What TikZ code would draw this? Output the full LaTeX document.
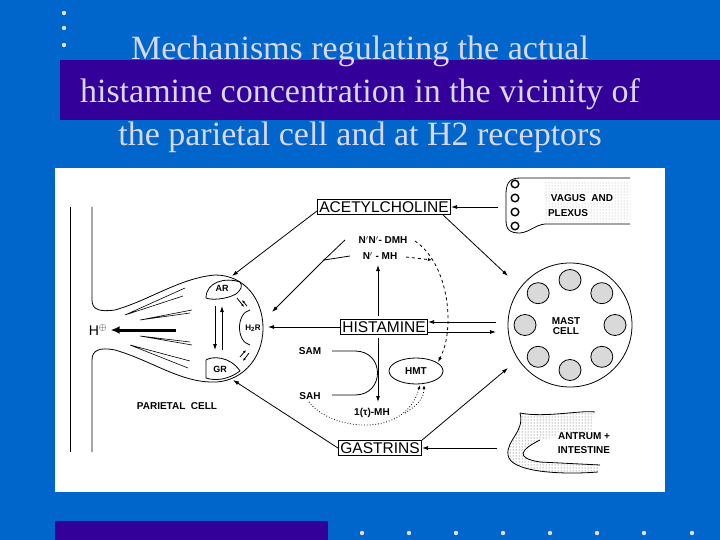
\documentclass[tikz,border=0pt]{standalone}
\usepackage{fontspec}
\setmainfont{Liberation Serif}
\newfontfamily\lab{Liberation Sans}
\usetikzlibrary{arrows.meta,patterns,calc,shapes.geometric}
\definecolor{bg}{HTML}{0066CC}
\definecolor{band}{HTML}{330099}
\definecolor{ttl}{HTML}{D8D8F0}
\begin{document}
\begin{tikzpicture}[x=1pt,y=-1pt,
  ln/.style={line width=0.8pt},
  ar/.style={ln,-{Latex[length=6pt,width=4pt]}},
  box/.style={draw,line width=0.9pt,inner sep=2pt,font=\lab\fontsize{15.5}{15.5}\selectfont},
  sm/.style={font=\lab\bfseries\fontsize{10}{10}\selectfont,inner sep=1pt},
  gran/.style={draw,line width=0.8pt,fill=gray!30}]
\useasboundingbox (0,0) rectangle (720,540);
\fill[bg] (0,0) rectangle (720,540);
\fill[band] (60,60) rectangle (720,120);
\foreach \y [count=\i] in {13,28,45} \fill[ttl!80] (64,\y) circle (2.2) coordinate (b\i);
\node[text=ttl,font=\fontsize{34}{43}\selectfont,align=center] (title) at (360,94)
 {Mechanisms regulating the actual\\histamine concentration in the vicinity of\\the parietal cell and at H2 receptors};
\fill[band] (55,521) rectangle (328,540);
\foreach \x in {362,409,456,503,550,597,644,692} \fill[ttl!80] (\x,533) circle (2.2);
\fill[white] (55,168) rectangle (665,492);
% parietal cell
\draw[ln] (70,207) -- (70,452);
\draw[ln] (92,207) -- (92,300) .. controls (92,310) and (100,312) .. (115,310) .. controls (150,300) and (180,278) .. (215,275)
  .. controls (245,275) and (263,300) .. (263,328) .. controls (263,360) and (240,383) .. (212,382)
  .. controls (180,382) and (150,360) .. (115,350) .. controls (100,347) and (92,350) .. (92,360) -- (92,452);
\draw[line width=0.6pt] (185,288) -- (125,315) -- (183,296);
\draw[line width=0.6pt] (192,310) -- (140,320) -- (190,313);
\draw[line width=0.6pt] (192,345) -- (140,336) -- (190,342);
\draw[line width=0.6pt] (188,368) -- (130,345) -- (190,361);
\draw[ln] (206,298) .. controls (206,282) and (225,277) .. (240,282) .. controls (243,286) and (241,290) .. (236,294) .. controls (225,300) and (210,300) .. (206,298);
\draw[ln] (250,310) .. controls (236,313) and (236,342) .. (250,345);
\draw[ln] (206,360) .. controls (212,356) and (230,356) .. (240,371) .. controls (228,380) and (215,381) .. (206,378) -- (206,360);
\node[sm,font=\lab\bfseries\fontsize{9}{9}\selectfont] (AR) at (222,288) {AR};
\node[sm,font=\lab\bfseries\fontsize{8}{8}\selectfont] (H2R) at (253,328) {H\textsubscript{2}R};
\node[sm,font=\lab\bfseries\fontsize{9}{9}\selectfont] (GR) at (220,369) {GR};
\node[font=\lab\fontsize{14}{14}\selectfont] (H) at (98,330) {H$^{\oplus}$};
\draw[line width=3pt,-{Latex[length=9pt,width=8pt]}] (176,330) -- (H.east);
\draw[ar] (215,306) -- (215,350);
\draw[ar] (222,350) -- (222,306);
\draw[ar,-{Latex[length=3pt,width=2.5pt]}] (237,298) -- (244,307);
\draw[ar,-{Latex[length=3pt,width=2.5pt]}] (247,306) -- (242,300);
\draw[ar,-{Latex[length=3pt,width=2.5pt]}] (240,357) -- (246,350);
\draw[ar,-{Latex[length=3pt,width=2.5pt]}] (249,353) -- (243,361);
\node[sm] (PC) at (177,406) {PARIETAL\ \ CELL};
% boxes
\node[box] (ACH) at (384,207) {ACETYLCHOLINE};
\node[box] (HIS) at (384,327) {HISTAMINE};
\node[box] (GAS) at (380,448) {GASTRINS};
\node[draw,ln,ellipse,minimum width=54,minimum height=26,sm] (HMT) at (416,371) {HMT};
\node[sm] (DMH) at (383,240) {N$'$N$'$- DMH};
\node[sm] (MH) at (380,256) {N$'$ - MH};
\node[sm] (SAM) at (310,351) {SAM};
\node[sm] (SAH) at (310,396) {SAH};
\node[sm] (TMH) at (372,413) {1(τ)-MH};
% vagus
\draw[ln] (630,178) -- (520,178) .. controls (508,178) and (506,185) .. (506,195) -- (506,220) .. controls (506,230) and (510,233) .. (520,233) .. controls (530,232) and (535,225) .. (545,224) -- (630,224);
\fill[pattern=dots,pattern color=gray!70] (545,182) rectangle (630,222);
\foreach \y in {184,198,212,226} \draw[line width=1.4pt] (515,\y) circle (3.8);
\node[sm,fill=white] (VAG) at (582,198) {VAGUS\ \ AND};
\node[sm,fill=white] (PLX) at (568,213) {PLEXUS};
% mast cell
\node[draw,ln,circle,minimum size=124] (MAST) at (570,325) {};
\node[sm,align=center] (MCL) at (566,326) {MAST\\CELL};
\foreach \a in {90,135,180,225,270,315,0,45} \draw[gran] ($(570,325)+(\a:45)$) ellipse (11 and 10.5);
% antrum
\fill[pattern=dots,pattern color=black!70] (520,413) .. controls (545,418) and (580,410) .. (595,412) -- (590,435) .. controls (570,440) and (550,435) .. (540,440) .. controls (520,450) and (515,458) .. (540,462) -- (600,465) -- (598,472) .. controls (560,475) and (510,472) .. (508,455) .. controls (506,440) and (525,432) .. (520,413);
\draw[ln] (520,413) .. controls (545,418) and (580,410) .. (595,412);
\draw[ln] (520,413) .. controls (525,432) and (506,440) .. (508,455) .. controls (510,472) and (560,475) .. (598,472);
\draw[ln] (540,440) .. controls (520,450) and (515,458) .. (540,462) -- (600,465);
\node[sm,fill=white] (ANT) at (584,436) {ANTRUM +};
\node[sm,fill=white] (INT) at (584,450) {INTESTINE};
% arrows
\draw[ar] (498,207) -- (ACH.east);
\draw[ar] ($(ACH.west)+(0,4)$) -- (232,276);
\draw[ar] ($(ACH.south east)+(-8,0)$) -- (508,276);
\draw[ar] (HIS.west) -- (268,327);
\draw[ln] (345,240) -- (324,260) -- (350,256);
\draw[ar] (324,260) -- (272,312);
\draw[ar] (378,316) -- (378,265);
\draw[ar] (378,338) -- (378,402);
\draw[ar] (496,322) -- (HIS.east |- 0,322);
\draw[ar] (HIS.east |- 0,332) -- (496,332);
\draw[ar] (GAS.west) -- (233,380);
\draw[ar] (GAS.north east) -- (508,368);
\draw[ar] (497,448) -- (GAS.east);
\draw[ln] (332,351) -- (355,351) .. controls (385,351) and (385,395) .. (355,395) -- (332,395);
\draw[ln,dashed,-{Latex[length=5pt,width=3.5pt]}] (415,241) .. controls (450,265) and (455,330) .. (438,362);
\draw[ln,dashed,-{Latex[length=4pt,width=3pt]}] (406,257) -- (432,260);
\draw[ln,dotted,-{Latex[length=4pt,width=3pt]}] (309,402) .. controls (330,430) and (405,440) .. (420,385);
\draw[ln,dotted,-{Latex[length=4pt,width=3pt]}] (405,413) .. controls (418,405) and (424,398) .. (424,385);
\end{tikzpicture}
\end{document}
